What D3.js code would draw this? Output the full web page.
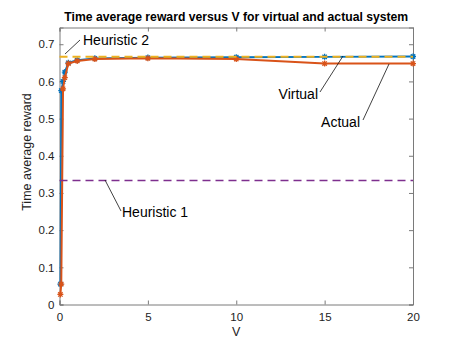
<!DOCTYPE html>
<html>
<head>
<meta charset="utf-8">
<script src="https://cdn.jsdelivr.net/npm/d3@7"></script>
<style>
  body { margin: 0; background: #fff; }
  text { font-family: "Liberation Sans", Arial, Helvetica, sans-serif; }
</style>
</head>
<body>
<svg id="chart" width="457" height="343"></svg>
<script>
// values
var vValues   = [0.05, 0.1, 0.2, 0.3, 0.5, 1, 2, 5, 10, 15, 20];
var virtualR  = [0.055, 0.575, 0.60, 0.625, 0.65, 0.657, 0.662, 0.664, 0.665, 0.666, 0.667];
var actualR   = [0.027, 0.055, 0.58, 0.61, 0.648, 0.655, 0.660, 0.662, 0.660, 0.648, 0.648];
var heur1 = 1 / 3;
var heur2 = 2 / 3;
var xTicks = [0, 5, 10, 15, 20];
var yTicks = [0, 0.1, 0.2, 0.3, 0.4, 0.5, 0.6, 0.7];

var margin = {top: 27.5, right: 44, bottom: 38.5, left: 59.5},
    width  = 457 - margin.left - margin.right,
    height = 343 - margin.top - margin.bottom;

var svg = d3.select("#chart");
var g = svg.append("g").attr("transform", "translate(" + margin.left + "," + margin.top + ")");

var x = d3.scaleLinear().domain([0, 20]).range([0, width]);
var y = d3.scaleLinear().domain([0, 0.745]).range([height, 0]);

var axisColor = "#7a7a7a";

// axes with inward ticks, box on
var xAxis = d3.axisBottom(x).tickValues(xTicks).tickSize(-4).tickPadding(8).tickFormat(d3.format("d"));
var yAxis = d3.axisLeft(y).tickValues(yTicks).tickSize(-4).tickPadding(5).tickFormat(d => d === 0 ? "0" : d3.format(".1f")(d));

var xg = g.append("g").attr("transform", "translate(0," + height + ")").call(xAxis);
var yg = g.append("g").call(yAxis);
g.append("g").call(d3.axisTop(x).tickValues(xTicks).tickSize(-4).tickFormat(""));
g.append("g").attr("transform", "translate(" + width + ",0)").call(d3.axisRight(y).tickValues(yTicks).tickSize(-4).tickFormat(""));

g.selectAll(".domain").attr("stroke", axisColor);
g.selectAll(".tick line").attr("stroke", axisColor);
g.selectAll(".tick text").attr("fill", "#222").style("font-size", "11.5px");

// lines
var line = d3.line().x(d => x(d[0])).y(d => y(d[1]));
var virtPts = vValues.map((v, i) => [v, virtualR[i]]);
var actPts  = vValues.map((v, i) => [v, actualR[i]]);

g.append("path").datum(virtPts).attr("d", line)
  .attr("fill", "none").attr("stroke", "#0072BD").attr("stroke-width", 1.8);

function star(sel, pts, color) {
  sel.selectAll(null).data(pts).enter().append("path")
    .attr("transform", d => "translate(" + x(d[0]) + "," + y(d[1]) + ")")
    .attr("d", "M-3,0H3M0,-3V3M-2.2,-2.2L2.2,2.2M-2.2,2.2L2.2,-2.2")
    .attr("stroke", color).attr("stroke-width", 1.3).attr("fill", "none");
}
star(g.append("g"), virtPts, "#0072BD");

g.append("path").datum(actPts).attr("d", line)
  .attr("fill", "none").attr("stroke", "#D95319").attr("stroke-width", 2);
star(g.append("g"), actPts, "#D95319");

g.append("line").attr("x1", x(0)).attr("x2", x(20)).attr("y1", y(heur2)).attr("y2", y(heur2))
  .attr("stroke", "#EDB120").attr("stroke-width", 2).attr("stroke-dasharray", "8,5");
g.append("line").attr("x1", x(0)).attr("x2", x(20)).attr("y1", y(heur1)).attr("y2", y(heur1))
  .attr("stroke", "#7E2F8E").attr("stroke-width", 1.6).attr("stroke-dasharray", "8,5");

// annotations
var notes = [
  {t: "Heuristic 2", x1: 65, y1: 54, x2: 80, y2: 40, tx: 83, ty: 45, anchor: "start"},
  {t: "Virtual", x1: 343, y1: 56, x2: 320, y2: 92, tx: 318, ty: 99, anchor: "end"},
  {t: "Actual", x1: 389, y1: 64, x2: 363, y2: 120, tx: 360, ty: 127, anchor: "end"},
  {t: "Heuristic 1", x1: 105, y1: 180, x2: 121, y2: 211, tx: 122, ty: 217, anchor: "start"}
];
notes.forEach(function(n) {
  svg.append("line").attr("x1", n.x1).attr("y1", n.y1).attr("x2", n.x2).attr("y2", n.y2)
    .attr("stroke", "#111").attr("stroke-width", 0.8);
  svg.append("text").attr("x", n.tx).attr("y", n.ty).attr("text-anchor", n.anchor)
    .style("font-size", "14px").attr("fill", "#000").text(n.t);
});

// title and axis labels
svg.append("text").attr("x", margin.left + width / 2).attr("y", 21).attr("text-anchor", "middle")
  .style("font-size", "12.2px").style("font-weight", "bold").attr("fill", "#000")
  .text("Time average reward versus V for virtual and actual system");
svg.append("text").attr("x", margin.left + width / 2).attr("y", 336).attr("text-anchor", "middle")
  .style("font-size", "12.5px").attr("fill", "#222").text("V");
svg.append("text").attr("transform", "translate(31,152) rotate(-90)").attr("text-anchor", "middle")
  .style("font-size", "12.5px").attr("fill", "#222").text("Time average reward");
</script>
</body>
</html>
